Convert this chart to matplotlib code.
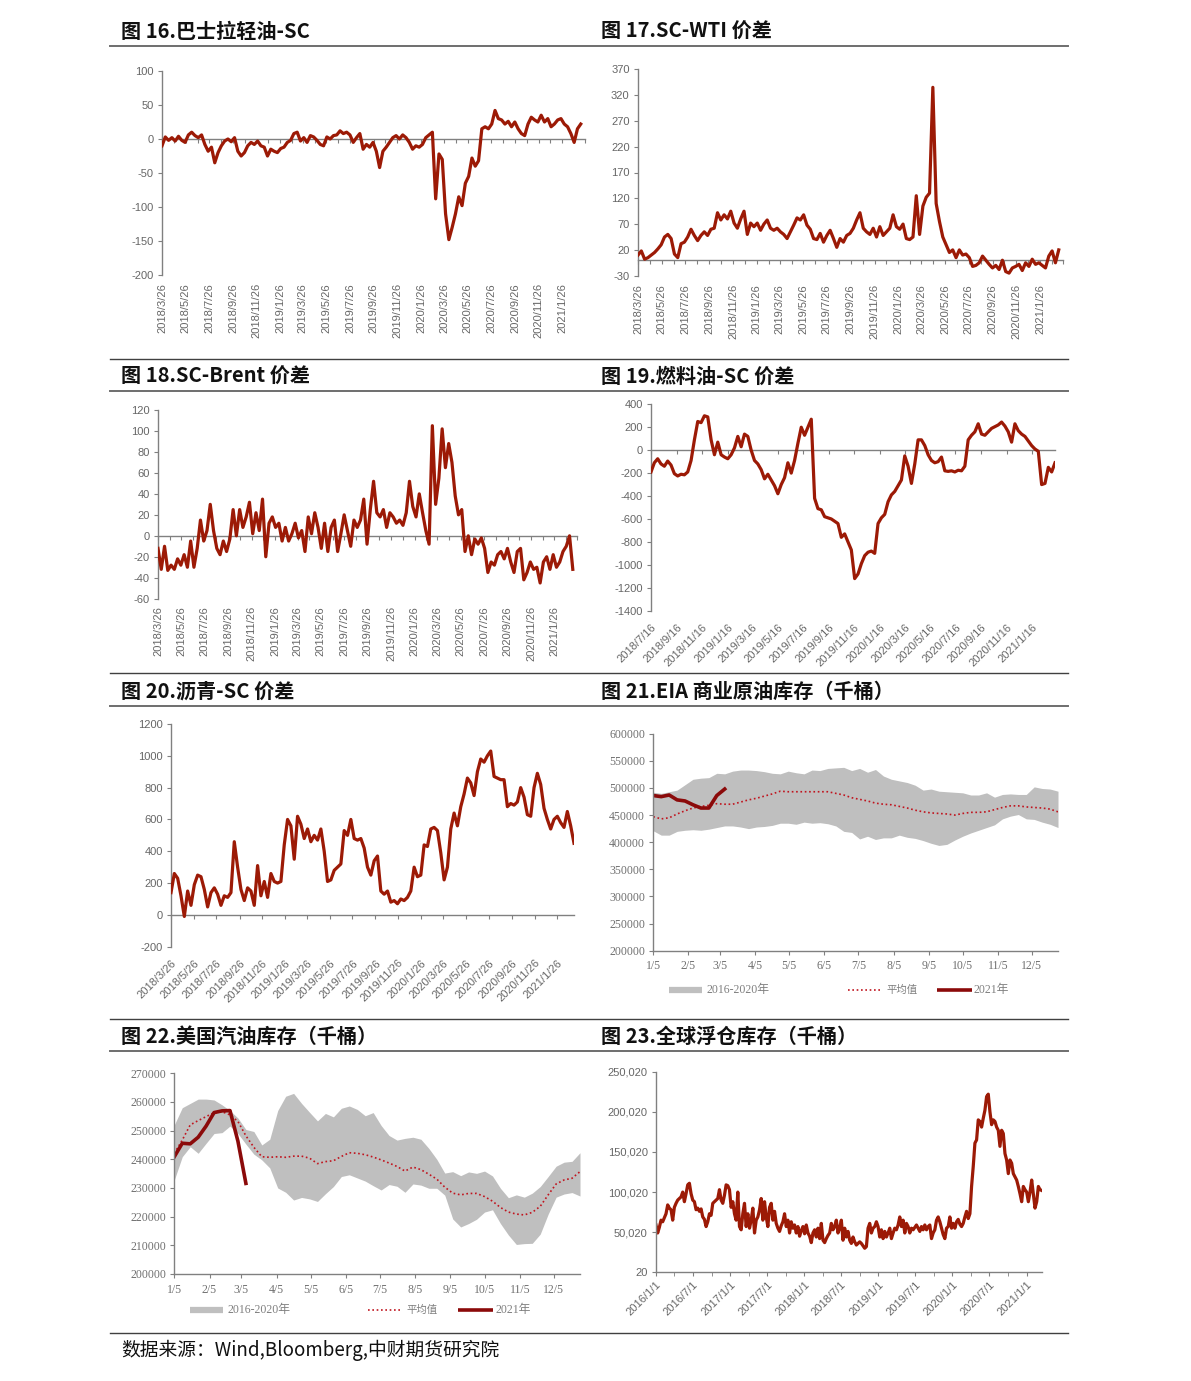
import numpy as np
import pandas as pd
import matplotlib
matplotlib.use("Agg")
import matplotlib.pyplot as plt
from matplotlib.lines import Line2D
from matplotlib.ticker import FuncFormatter
from matplotlib.transforms import blended_transform_factory
import matplotlib.dates as mdates

plt.rcParams["axes.unicode_minus"] = False

W, H = 1191, 1381
RED = "#9C1A06"
DARK_RED = "#8B0A0A"
MEAN_RED = "#C0141E"
BAND = "#BFBFBF"
AXIS_GRAY = "#808080"
TXT_GRAY = "#666666"
CJK = ["Noto Sans CJK SC", "DejaVu Sans"]
SANS = ["Liberation Sans", "Noto Sans CJK SC"]
SERIF = ["Liberation Serif", "Noto Sans CJK SC"]

# ---- 图16 巴士拉轻油-SC (2018/3/26 - 2021/3/15)
basra_sc = [
    -10, 3, -2, 2, -3, 4, -2, -5, 6, 10,
    5, 2, 6, -8, -18, -12, -35, -20, -10, -3,
    0, -4, 2, -18, -25, -20, -10, -5, -8, -3,
    -10, -12, -25, -15, -18, -20, -14, -12, -5, -2,
    8, 10, -3, 2, -5, 5, 3, -2, -8, -10,
    3, 0, 5, 6, 12, 8, 10, 6, -5, 2,
    8, -15, -8, -12, -5, -18, -42, -18, -12, -5,
    2, 5, 0, 6, 2, -5, -15, -10, -12, -8,
    2, 6, 10, -88, -22, -30, -110, -148, -130, -110,
    -85, -98, -65, -55, -28, -40, -32, 15, 18, 15,
    22, 42, 30, 28, 22, 26, 18, 25, 15, 8,
    5, 22, 32, 28, 25, 35, 25, 30, 18, 22,
    28, 30, 22, 18, 8, -5, 15, 22]

# ---- 图17 SC-WTI 价差
sc_wti = [
    10, 18, 2, 5, 10, 15, 22, 30, 45, 50,
    42, 12, 5, 32, 35, 45, 60, 48, 38, 48,
    55, 48, 60, 62, 92, 78, 88, 80, 95, 72,
    62, 80, 95, 50, 72, 65, 72, 58, 70, 78,
    62, 58, 62, 55, 50, 42, 55, 68, 82, 78,
    88, 68, 60, 42, 40, 52, 35, 48, 58, 42,
    25, 42, 35, 48, 52, 62, 78, 92, 62, 55,
    50, 62, 45, 65, 48, 55, 62, 88, 65, 60,
    70, 42, 40, 45, 125, 50, 105, 122, 130, 335,
    110, 75, 45, 30, 15, 20, 5, 20, 10, 12,
    5, -12, -10, -5, 8, 0, -8, -15, -10, -18,
    0, -22, -25, -15, -12, -8, -20, -5, -12, 2,
    -8, -5, -10, -15, 8, 18, -5, 20]

# ---- 图18 SC-Brent 价差
sc_brent = [
    -12, -32, -10, -33, -28, -32, -22, -28, -18, -30,
    -5, -30, -12, 15, -5, 5, 30, 5, -12, -18,
    -5, -15, -3, 25, 0, 25, 8, 18, 32, 2,
    22, 5, 35, -20, 12, 18, 8, 12, -5, 8,
    -5, 2, 12, -2, 5, -15, 18, 2, 22, 8,
    -12, 12, -15, 8, 15, -15, 2, 20, 5, -10,
    15, 8, 15, 35, -8, 25, 52, 22, 18, 25,
    8, 22, 18, 12, 15, 10, 22, 52, 28, 18,
    40, 22, 5, -8, 105, 30, 55, 102, 65, 88,
    70, 38, 20, 25, -15, 0, -18, -3, -8, -2,
    -12, -35, -25, -28, -18, -15, -22, -12, -25, -35,
    -15, -12, -42, -35, -25, -32, -30, -45, -25, -20,
    -32, -18, -30, -25, -15, -10, 0, -32]

# ---- 图19 燃料油-SC 价差 (2018/7/16 - 2021/3/12)
fuel_sc = [
    -190, -110, -75, -120, -140, -95, -130, -205, -225, -210,
    -215, -190, -90, 90, 250, 240, 300, 290, 90, -40,
    70, -40, -60, -75, -40, 20, 120, 30, 140, 120,
    0, -90, -120, -170, -250, -210, -260, -310, -380, -300,
    -240, -110, -200, -90, 60, 200, 130, 200, 270, -420,
    -510, -520, -580, -590, -600, -620, -640, -760, -730, -800,
    -870, -1120, -1080, -990, -920, -890, -880, -900, -640, -590,
    -560, -450, -390, -360, -310, -260, -50, -140, -290, -120,
    90, 90, 40, -40, -90, -110, -100, -60, -180, -185,
    -180, -190, -175, -180, -140, 90, 130, 160, 230, 140,
    130, 160, 190, 205, 220, 245, 210, 160, 70, 230,
    170, 140, 120, 80, 40, 10, -10, -300, -290, -150,
    -190, -110]

# ---- 图20 沥青-SC 价差 (2018/3/26 - 2021/3/12)
asphalt_sc = [
    140, 260, 230, 120, -10, 150, 60, 190, 250, 240,
    160, 50, 140, 170, 130, 60, 120, 110, 140, 460,
    300, 160, 90, 170, 150, 60, 310, 120, 210, 110,
    260, 210, 200, 210, 440, 600, 560, 350, 620, 570,
    480, 540, 460, 500, 470, 540, 400, 210, 220, 280,
    300, 320, 530, 500, 600, 480, 470, 480, 420, 300,
    250, 340, 370, 150, 130, 150, 80, 90, 70, 100,
    90, 110, 150, 300, 240, 250, 440, 430, 540, 550,
    530, 390, 220, 300, 540, 640, 560, 680, 760, 860,
    830, 750, 900, 980, 960, 1000, 1030, 870, 860, 850,
    850, 680, 700, 690, 710, 800, 740, 630, 620, 800,
    890, 820, 670, 600, 540, 600, 620, 580, 550, 650,
    560, 450]

# ---- 图21 EIA 商业原油库存, weekly from 1/5 (千桶 / 1000)
eia_upper = [492, 490, 493, 496, 506, 516, 518, 519, 527, 526, 531, 533, 533,
             532, 530, 527, 526, 531, 528, 526, 533, 532, 536, 537, 538, 532,
             536, 529, 534, 522, 516, 513, 510, 505, 496, 498, 494, 493, 492,
             491, 487, 487, 491, 483, 488, 489, 488, 488, 502, 499, 498, 494]
eia_lower = [421, 413, 413, 420, 422, 423, 422, 424, 427, 430, 430, 428, 425,
             428, 429, 431, 435, 435, 433, 437, 435, 436, 434, 430, 420, 418,
             406, 411, 405, 408, 408, 413, 409, 407, 403, 398, 394, 396, 404,
             411, 417, 422, 427, 432, 443, 448, 451, 443, 442, 437, 433, 427]
eia_mean = [447, 443, 445, 452, 458, 463, 466, 468, 471, 470, 470, 474, 478,
            481, 485, 489, 494, 493, 493, 493, 493, 493, 493, 490, 487, 482,
            479, 476, 472, 470, 469, 466, 463, 459, 456, 454, 453, 452, 450,
            453, 455, 455, 456, 460, 464, 467, 467, 465, 464, 463, 461, 456]
eia_2021 = [486, 484, 487, 478, 476, 469, 463, 463, 486, 498]

# ---- 图22 美国汽油库存 (千桶 / 1000)
gas_upper = [252.0, 258.0, 259.5, 261.0, 261.0, 260.7, 259.0, 257.0, 254.4, 250.4,
             249.7, 245.0, 247.0, 257.0, 262.0, 263.0, 259.5, 256.4, 253.4, 256.0,
             254.8, 257.8, 258.6, 257.4, 255.2, 256.3, 251.8, 248.3, 246.7, 247.3,
             247.7, 247.0, 243.8, 240.0, 235.2, 235.7, 234.3, 235.6, 235.1, 235.9,
             234.2, 229.9, 226.6, 227.6, 226.8, 228.2, 230.5, 234.0, 237.6, 239.0,
             239.3, 242.3]
gas_lower = [232.8, 240.9, 244.4, 242.1, 245.6, 249.0, 249.3, 251.6, 249.0, 245.3,
             241.8, 239.8, 237.0, 230.0, 228.5, 225.8, 226.7, 226.2, 225.3, 228.0,
             230.5, 234.0, 234.6, 233.5, 232.4, 230.8, 229.3, 231.2, 230.6, 228.5,
             231.4, 231.0, 229.9, 229.9, 227.5, 219.2, 216.4, 217.6, 219.1, 221.6,
             222.4, 217.6, 213.6, 210.3, 210.6, 210.7, 213.9, 220.9, 226.8, 227.9,
             228.4, 227.2]
gas_mean = [242.1, 246.7, 252.0, 253.5, 254.9, 256.3, 256.6, 255.5, 253.2, 248.2,
            244.2, 240.9, 240.7, 240.9, 240.7, 241.1, 241.1, 240.4, 238.5, 239.2,
            239.5, 241.0, 242.3, 242.1, 241.6, 240.8, 239.8, 238.7, 237.5, 235.9,
            237.3, 236.4, 234.8, 233.1, 230.3, 228.2, 227.6, 228.1, 228.1, 227.0,
            225.4, 223.2, 221.6, 220.9, 220.6, 221.5, 223.6, 227.6, 231.4, 232.8,
            233.4, 235.7]
gas_2021 = [240.9, 245.6, 245.4, 247.7, 251.6, 256.3, 256.9, 257.0, 246.3, 231.6]

# ---- 图23 全球浮仓库存 (2016/1/1 - 2021/3/16, 千桶 / 1000)
floating = [
    59, 49, 56, 65, 63, 68, 73, 84, 80, 78, 65, 81, 86, 90, 92, 94, 100, 88, 98, 109,
    111, 98, 90, 88, 78, 80, 76, 79, 69, 66, 57, 63, 73, 71, 86, 88, 90, 92, 103, 90,
    86, 96, 109, 108, 103, 81, 88, 73, 65, 100, 57, 53, 73, 86, 57, 73, 55, 65, 80, 49,
    65, 69, 78, 92, 65, 88, 69, 57, 81, 86, 65, 76, 61, 55, 51, 58, 63, 73, 57, 65,
    49, 63, 55, 59, 49, 57, 45, 52, 57, 48, 59, 49, 45, 37, 49, 53, 44, 55, 42, 61,
    40, 37, 42, 46, 49, 61, 53, 57, 65, 49, 55, 65, 40, 55, 44, 51, 40, 36, 44, 38,
    34, 36, 38, 36, 33, 30, 32, 55, 61, 49, 55, 57, 63, 57, 44, 53, 42, 51, 44, 49,
    55, 42, 49, 55, 53, 59, 69, 57, 65, 49, 61, 57, 49, 55, 53, 56, 59, 55, 51, 57,
    53, 59, 53, 57, 59, 42, 49, 53, 65, 69, 63, 55, 47, 42, 55, 57, 69, 55, 61, 55,
    63, 66, 60, 57, 61, 69, 76, 67, 73, 107, 132, 161, 165, 190, 188, 181, 192, 202, 219, 222,
    200, 184, 190, 188, 181, 177, 157, 177, 173, 148, 140, 123, 140, 136, 123, 119, 115, 107, 98, 88,
    107, 103, 100, 88, 100, 115, 98, 80, 88, 107, 103, 102]

fig = plt.figure(figsize=(W / 100, H / 100), dpi=100)


def px_axes(l, t, r, b):
    return fig.add_axes([l / W, 1 - b / H, (r - l) / W, (b - t) / H])


def date_label(d):
    return f"{d.year}/{d.month}/{d.day}"


def style_left(ax, fam, size, color):
    ax.spines[["top", "right"]].set_visible(False)
    for s in ("left", "bottom"):
        ax.spines[s].set_color(AXIS_GRAY)
        ax.spines[s].set_linewidth(1.0)
    ax.tick_params(axis="y", direction="out", length=3, color=AXIS_GRAY,
                   labelcolor=color, labelsize=size, pad=3)
    ax.tick_params(axis="x", direction="out", length=3, color=AXIS_GRAY)
    for lab in ax.get_yticklabels():
        lab.set_family(fam)


def spread_panel(rect, start, end, values, ylim, yticks, tick_dates,
                 label_dates, rot, yoff):
    ax = px_axes(*rect)
    x = pd.date_range(start, end, periods=len(values))
    ax.plot(x, values, color=RED, lw=2.3, zorder=3, solid_joinstyle="round")
    ax.set_xlim(pd.Timestamp(start), pd.Timestamp(end))
    ax.set_ylim(*ylim)
    ax.set_yticks(yticks)
    ax.spines["bottom"].set_position(("data", 0))
    ax.set_xticks(tick_dates)
    style_left(ax, SANS, 8, TXT_GRAY)
    ax.tick_params(axis="x", labelbottom=False)
    trans = blended_transform_factory(ax.transData, ax.transAxes)
    for d in label_dates:
        if rot == 90:
            ax.text(mdates.date2num(d), yoff, date_label(d), transform=trans,
                    rotation=90, ha="center", va="top", fontsize=8,
                    color=TXT_GRAY, family=SANS)
        else:
            ax.text(mdates.date2num(d), yoff, date_label(d), transform=trans,
                    rotation=45, ha="right", va="top", rotation_mode="anchor",
                    fontsize=8, color=TXT_GRAY, family=SANS)
    return ax


def legend_row(y, x_patch, x_dot, x_line):
    yy = 1 - y / H
    fig.add_artist(Line2D([x_patch / W, (x_patch + 33) / W], [yy, yy],
                          transform=fig.transFigure, color=BAND, lw=4.5,
                          solid_capstyle="butt"))
    fig.text((x_patch + 37) / W, yy, "2016-2020年", fontsize=8.5, color="#7f7f7f",
             family=SERIF, va="center")
    fig.add_artist(Line2D([x_dot / W, (x_dot + 34) / W], [yy, yy],
                          transform=fig.transFigure, color=MEAN_RED, lw=1.2,
                          ls=(0, (1, 1.6))))
    fig.text((x_dot + 38) / W, yy, "平均值", fontsize=7.5, color="#7f7f7f",
             family=CJK, va="center")
    fig.add_artist(Line2D([x_line / W, (x_line + 35) / W], [yy, yy],
                          transform=fig.transFigure, color=DARK_RED, lw=2.6,
                          solid_capstyle="butt"))
    fig.text((x_line + 37) / W, yy, "2021年", fontsize=8.5, color="#7f7f7f",
             family=SERIF, va="center")


def stock_panel(rect, lower, upper, mean, cur, ylim, yticks):
    ax = px_axes(*rect)
    weeks = pd.date_range("2021-01-05", periods=len(upper), freq="7D")
    ax.fill_between(weeks, np.array(lower) * 1000, np.array(upper) * 1000,
                    color=BAND, lw=0)
    ax.plot(weeks, np.array(mean) * 1000, color=MEAN_RED, lw=1.2,
            ls=(0, (1, 1.6)))
    ax.plot(weeks[:len(cur)], np.array(cur) * 1000, color=DARK_RED, lw=2.6)
    ax.set_xlim(weeks[0], weeks[-1])
    ax.set_ylim(*ylim)
    ax.set_yticks(yticks)
    months = pd.date_range("2021-01-05", periods=12, freq=pd.DateOffset(months=1))
    ax.set_xticks(months, [f"{d.month}/{d.day}" for d in months])
    style_left(ax, SERIF, 8.5, "#707070")
    ax.tick_params(axis="x", labelsize=8.5, labelcolor="#707070", pad=4)
    for lab in ax.get_xticklabels():
        lab.set_family(SERIF)
    return ax


monthly_26 = pd.date_range("2018-03-26", periods=37, freq=pd.DateOffset(months=1))
bimonthly_26 = monthly_26[:35:2]
bimonthly_16 = pd.date_range("2018-07-16", periods=16, freq=pd.DateOffset(months=2))

# 图16
spread_panel((162, 71, 585, 275), "2018-03-26", "2021-03-15", basra_sc,
             (-200, 100), np.arange(-200, 101, 50), monthly_26, bimonthly_26, 90, -0.04)
# 图17
spread_panel((638, 69.3, 1063, 275.7), "2018-03-26", "2021-03-15", sc_wti,
             (-30, 370), np.arange(-30, 371, 50), monthly_26, bimonthly_26, 90, -0.04)
# 图18
spread_panel((158, 410, 577, 598.7), "2018-03-26", "2021-03-15", sc_brent,
             (-60, 120), np.arange(-60, 121, 20), monthly_26, bimonthly_26, 90, -0.04)
# 图19
spread_panel((651, 404.3, 1055, 610.7), "2018-07-16", "2021-03-12", fuel_sc,
             (-1400, 400), np.arange(-1400, 401, 200), bimonthly_16, bimonthly_16, 45, -0.055)
# 图20
spread_panel((171, 724, 574, 946.7), "2018-03-26", "2021-03-12", asphalt_sc,
             (-200, 1200), np.arange(-200, 1201, 200), bimonthly_26, bimonthly_26, 45, -0.05)

# 图21
stock_panel((653.3, 733.7, 1058, 950.7), eia_lower, eia_upper, eia_mean, eia_2021,
            (200000, 600000), np.arange(200000, 600001, 50000))
legend_row(990, 669, 848, 937)

# 图22
stock_panel((174.3, 1073.3, 580, 1274), gas_lower, gas_upper, gas_mean, gas_2021,
            (200000, 270000), np.arange(200000, 270001, 10000))
legend_row(1310, 190, 368, 458)

# 图23
ax = px_axes(656, 1071.7, 1041.7, 1272.3)
xf = pd.date_range("2016-01-01", "2021-03-16", periods=len(floating))
ax.plot(xf, np.array(floating) * 1000, color=RED, lw=2.3, solid_joinstyle="round")
ax.set_xlim(pd.Timestamp("2016-01-01"), pd.Timestamp("2021-03-16"))
ax.set_ylim(20, 250020)
ax.set_yticks(np.arange(20, 250021, 50000))
ax.yaxis.set_major_formatter(FuncFormatter(lambda v, p: f"{v:,.0f}"))
half_years = pd.date_range("2016-01-01", periods=11, freq=pd.DateOffset(months=6))
quarters = pd.date_range("2016-01-01", periods=21, freq=pd.DateOffset(months=3))
ax.set_xticks(half_years, [date_label(d) for d in half_years])
ax.set_xticks(quarters, minor=True)
style_left(ax, SANS, 8, TXT_GRAY)
ax.tick_params(axis="x", which="both", direction="out", length=3, color=AXIS_GRAY,
               labelsize=8, labelcolor=TXT_GRAY, pad=2)
for lab in ax.get_xticklabels():
    lab.set_family(SANS)
    lab.set_rotation(45)
    lab.set_ha("right")
    lab.set_va("top")
    lab.set_rotation_mode("anchor")

# titles, rules, footer
titles = [
    (121, 31, "图 16.巴士拉轻油-SC"), (601, 31, "图 17.SC-WTI 价差"),
    (121, 376, "图 18.SC-Brent 价差"), (601, 376, "图 19.燃料油-SC 价差"),
    (121, 691, "图 20.沥青-SC 价差"), (601, 691, "图 21.EIA 商业原油库存（千桶）"),
    (121, 1036, "图 22.美国汽油库存（千桶）"), (601, 1036, "图 23.全球浮仓库存（千桶）"),
]
for x, y, t in titles:
    fig.text(x / W, 1 - y / H, t, fontsize=14.5, fontweight="bold", family=CJK,
             va="center", ha="left", color="#111111")

for y in (46, 391, 706, 1051):
    fig.add_artist(Line2D([110 / W, 1068 / W], [1 - y / H] * 2,
                          transform=fig.transFigure, color="#6e6e6e", lw=1.4))
for y in (359, 673, 1019, 1333):
    fig.add_artist(Line2D([110 / W, 1068 / W], [1 - y / H] * 2,
                          transform=fig.transFigure, color="#404040", lw=1.0))

fig.text(121 / W, 1 - 1350 / H, "数据来源：Wind,Bloomberg,中财期货研究院",
         fontsize=13.5, family=CJK, va="center", ha="left", color="#111111")

fig.savefig("out.png", dpi=100)
